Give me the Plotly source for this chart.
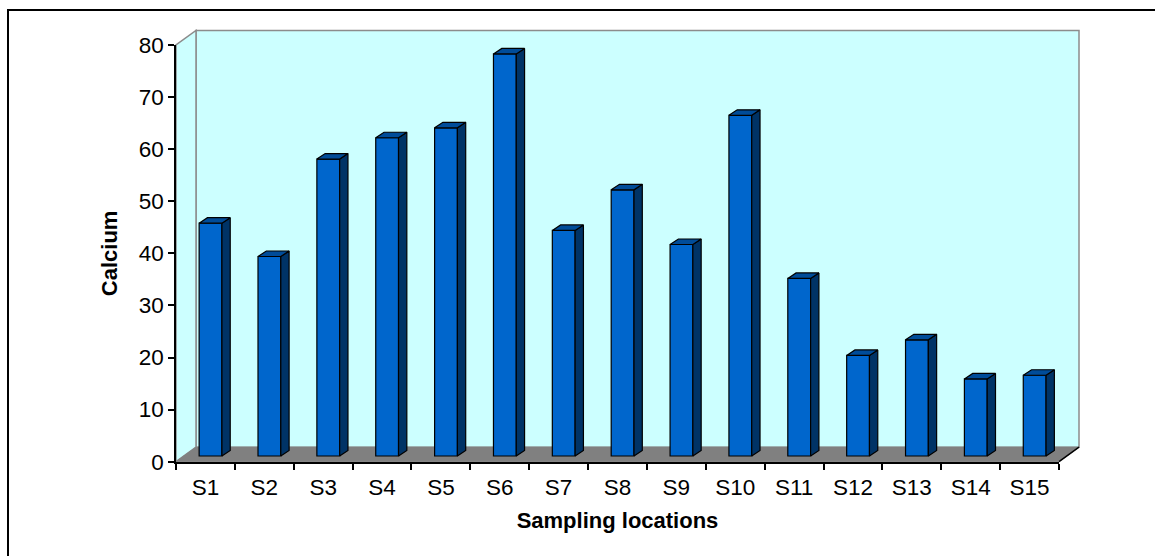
import plotly.graph_objects as go

# ---- data -------------------------------------------------------------
categories = ["S1", "S2", "S3", "S4", "S5", "S6", "S7", "S8",
              "S9", "S10", "S11", "S12", "S13", "S14", "S15"]
calcium = [44.7, 38.3, 57.0, 61.1, 63.0, 77.2, 43.3, 51.1,
           40.6, 65.4, 34.1, 19.3, 22.3, 14.8, 15.5]
y_ticks = [0, 10, 20, 30, 40, 50, 60, 70, 80]

# ---- page / plot geometry (pixels) -----------------------------------
W_PX, H_PX = 1155, 556
FRONT_L, FRONT_R = 176, 1059        # front plane of the 3-D box
FRONT_TOP, FRONT_BOT = 45, 461.7
Y_MAX = 80
N = len(categories)
PX_PER_CAT = (FRONT_R - FRONT_L) / N
PX_PER_UNIT = (FRONT_BOT - FRONT_TOP) / Y_MAX

# depth of the box (oblique projection) in data units
DX = 20 / PX_PER_CAT
DY = 14.5 / PX_PER_UNIT

# column geometry in data units
BAR_BASE = 5.7 / PX_PER_UNIT
BAR_OFF = -6.3 / PX_PER_CAT
BAR_W = 22.8 / PX_PER_CAT
BAR_DX = 8.3 / PX_PER_CAT
BAR_DY = 5.5 / PX_PER_UNIT

# drawing subplot covers the whole box with some slack
BOX_L, BOX_R, BOX_T, BOX_B = 165, 1095, 20, 475
x_range = [-0.5 - (FRONT_L - BOX_L) / PX_PER_CAT, N - 0.5 + (BOX_R - FRONT_R) / PX_PER_CAT]
y_range = [-(BOX_B - FRONT_BOT) / PX_PER_UNIT, Y_MAX + (FRONT_TOP - BOX_T) / PX_PER_UNIT]


def px_dom_x(a, b):
    return [a / W_PX, b / W_PX]


def px_dom_y(top, bottom):
    return [1 - bottom / H_PX, 1 - top / H_PX]


FONT = "Arial, Liberation Sans, sans-serif"
FRONT_COLOR = "#0066CC"
SIDE_COLOR = "#003366"
TOP_COLOR = "#004C99"

xs = list(range(N))

fig = go.Figure()

# front faces of the columns
fig.add_trace(go.Bar(
    x=xs, y=calcium, base=BAR_BASE, width=BAR_W, offset=BAR_OFF,
    marker=dict(color=FRONT_COLOR, line=dict(color="black", width=1.2)),
    xaxis="x", yaxis="y", hoverinfo="skip", showlegend=False,
))

# right-hand side faces
side_x, side_y = [], []
for i, v in enumerate(calcium):
    x0 = i + BAR_OFF + BAR_W
    side_x += [x0, x0 + BAR_DX, x0 + BAR_DX, x0, x0, None]
    side_y += [BAR_BASE, BAR_BASE + BAR_DY, BAR_BASE + v + BAR_DY, BAR_BASE + v, BAR_BASE, None]
fig.add_trace(go.Scatter(
    x=side_x, y=side_y, mode="lines", fill="toself", fillcolor=SIDE_COLOR,
    line=dict(color="black", width=1.2), xaxis="x", yaxis="y",
    hoverinfo="skip", showlegend=False,
))

# top faces
top_x, top_y = [], []
for i, v in enumerate(calcium):
    xl = i + BAR_OFF
    xr = xl + BAR_W
    t = BAR_BASE + v
    top_x += [xl, xl + BAR_DX, xr + BAR_DX, xr, xl, None]
    top_y += [t, t + BAR_DY, t + BAR_DY, t, t, None]
fig.add_trace(go.Scatter(
    x=top_x, y=top_y, mode="lines", fill="toself", fillcolor=TOP_COLOR,
    line=dict(color="black", width=1.2), xaxis="x", yaxis="y",
    hoverinfo="skip", showlegend=False,
))

# carrier trace for the visible front axes
fig.add_trace(go.Scatter(
    x=categories, y=calcium, mode="markers", marker=dict(opacity=0),
    xaxis="x2", yaxis="y2", hoverinfo="skip", showlegend=False,
))

# ---- box walls and floor ---------------------------------------------
L, R = -0.5, N - 0.5


def path(pts):
    return "M " + " L ".join(f"{x:.5f},{y:.5f}" for x, y in pts) + " Z"


shapes = [
    dict(type="path", xref="x", yref="y", layer="below",
         path=path([(L + DX, DY), (R + DX, DY), (R + DX, Y_MAX + DY), (L + DX, Y_MAX + DY)]),
         fillcolor="#CCFFFF", line=dict(color="#8C8C8C", width=1.5)),
    dict(type="path", xref="x", yref="y", layer="below",
         path=path([(L, 0), (L + DX, DY), (L + DX, Y_MAX + DY), (L, Y_MAX)]),
         fillcolor="#CCFFFF", line=dict(color="#8C8C8C", width=1.5)),
    dict(type="path", xref="x", yref="y", layer="below",
         path=path([(L, 0), (R, 0), (R + DX, DY), (L + DX, DY)]),
         fillcolor="#808080", line=dict(color="#808080", width=1)),
    dict(type="line", xref="x", yref="y", layer="below",
         x0=R, y0=0, x1=R + DX, y1=DY, line=dict(color="black", width=1.5)),
    # chart-area border
    dict(type="rect", xref="paper", yref="paper",
         x0=8 / W_PX, y0=1 - 10 / H_PX, x1=1.05, y1=-0.05,
         line=dict(color="black", width=2), fillcolor="rgba(0,0,0,0)"),
]

fig.update_layout(
    template="none",
    width=W_PX, height=H_PX,
    margin=dict(l=0, r=0, t=0, b=0, pad=0, autoexpand=False),
    paper_bgcolor="white", plot_bgcolor="rgba(0,0,0,0)",
    font=dict(family=FONT, color="black"),
    showlegend=False,
    shapes=shapes,
    xaxis=dict(domain=px_dom_x(BOX_L, BOX_R), range=x_range, visible=False,
               anchor="y", fixedrange=True, automargin=False),
    yaxis=dict(domain=px_dom_y(BOX_T, BOX_B), range=y_range, visible=False,
               anchor="x", fixedrange=True, automargin=False),
    xaxis2=dict(
        domain=px_dom_x(FRONT_L, FRONT_R), anchor="y2", type="category",
        categoryorder="array", categoryarray=categories,
        range=[-0.5, N - 0.5], tickson="boundaries", automargin=False,
        ticks="outside", ticklen=6, tickcolor="black", tickwidth=1.5,
        ticklabelstandoff=4,
        showline=True, linecolor="black", linewidth=2,
        showgrid=False, zeroline=False,
        tickfont=dict(size=22.5, family=FONT),
        title=dict(text="<b>Sampling locations</b>", font=dict(size=22, family=FONT),
                   standoff=14),
    ),
    yaxis2=dict(
        domain=px_dom_y(FRONT_TOP, FRONT_BOT), anchor="x2",
        range=[0, Y_MAX], tickvals=y_ticks, automargin=False,
        ticks="outside", ticklen=6, tickcolor="black", tickwidth=1.5,
        showline=True, linecolor="black", linewidth=1.5,
        showgrid=False, zeroline=False,
        tickfont=dict(size=22.5, family=FONT),
        title=dict(text="<b>Calcium</b>", font=dict(size=22, family=FONT),
                   standoff=15),
    ),
)

fig.write_html("out.html")
